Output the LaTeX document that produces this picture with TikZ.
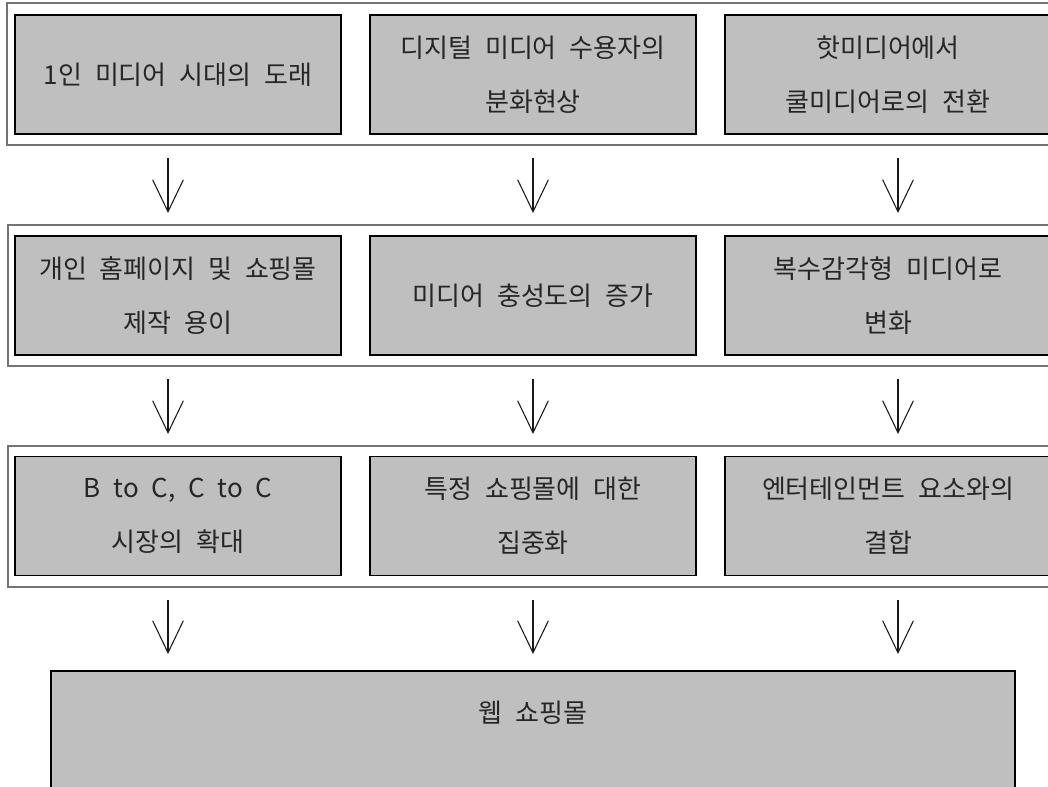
\documentclass[tikz,border=0pt]{standalone}
\usepackage{fontspec}
\setmainfont{Noto Sans CJK KR}[WordSpace=2.2]
\usetikzlibrary{arrows.meta}
\begin{document}
\begin{tikzpicture}[x=0.75pt,y=-0.75pt,
  frame/.style={draw=black!55,line width=0.9pt},
  cellbox/.style={draw=black,line width=1.1pt,fill=black!25,
    minimum width=244.5pt,minimum height=89.25pt,inner sep=0pt,
    align=center,text=black!85,
    font=\fontsize{19.5pt}{40.5pt}\selectfont},
  bigbox/.style={draw=black,line width=1.5pt,fill=black!25,
    minimum width=723pt,minimum height=112pt,inner sep=0pt,anchor=north},
  lbl/.style={text=black!85,font=\fontsize{19.5pt}{40.5pt}\selectfont},
  arr/.style={draw=black!90,line width=0.8pt,
    -{Straight Barb[length=24pt,width=23pt,line width=0.8pt]}}]
\useasboundingbox (0,0) rectangle (1048,787);
\clip (0,0) rectangle (1048,787);
% row frames
\draw[frame] (7,3) rectangle (1070,145);
\draw[frame] (8,225) rectangle (1070,366);
\draw[frame] (8,446) rectangle (1070,587);
% row 1
\node[cellbox] (r1c1) at (178,74.5) {1인 미디어 시대의 도래};
\node[cellbox] (r1c2) at (533,74.5) {디지털 미디어 수용자의\\분화현상};
\node[cellbox] (r1c3) at (888,74.5) {핫미디어에서\\쿨미디어로의 전환};
% row 2
\node[cellbox] (r2c1) at (178,295.5) {개인 홈페이지 및 쇼핑몰\\제작 용이};
\node[cellbox] (r2c2) at (533,295.5) {미디어 충성도의 증가};
\node[cellbox] (r2c3) at (888,295.5) {복수감각형 미디어로\\변화};
% row 3
\node[cellbox] (r3c1) at (178,516) {B to C, C to C\\시장의 확대};
\node[cellbox] (r3c2) at (533,516) {특정 쇼핑몰에 대한\\집중화};
\node[cellbox] (r3c3) at (888,516) {엔터테인먼트 요소와의\\결합};
% bottom box
\node[bigbox] (web) at (533,670) {};
\node[lbl] (webtxt) at (533,713) {웹 쇼핑몰};
% arrow end points
\foreach \ax/\n in {168/1,533/2,898/3}{
  \coordinate (a\n s) at (\ax,158);
  \coordinate (a\n e) at (\ax,213);
  \coordinate (b\n s) at (\ax,379);
  \coordinate (b\n e) at (\ax,434);
  \coordinate (c\n s) at (\ax,600);
  \coordinate (c\n e) at (\ax,654);
}
\foreach \n in {1,2,3}{
  \draw[arr] (a\n s) -- (a\n e);
  \draw[arr] (b\n s) -- (b\n e);
  \draw[arr] (c\n s) -- (c\n e);
}
\end{tikzpicture}
\end{document}
